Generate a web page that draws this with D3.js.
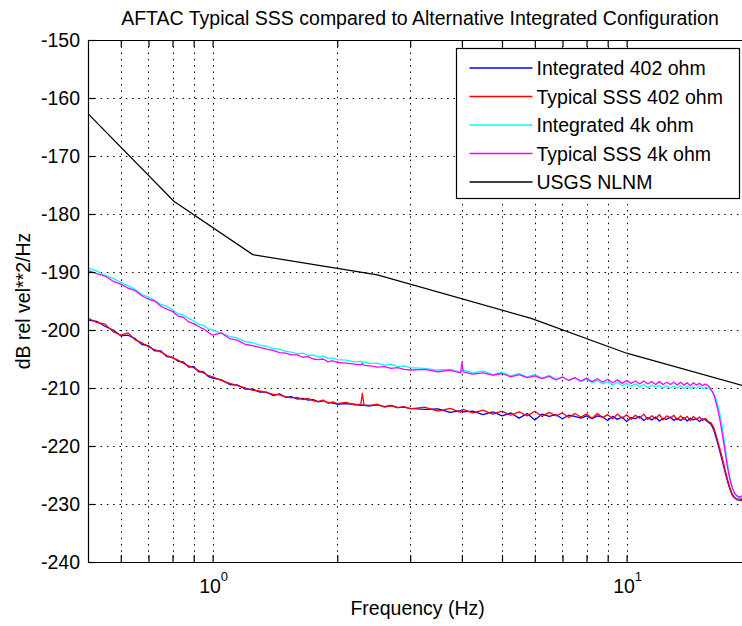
<!DOCTYPE html>
<html>
<head>
<meta charset="utf-8">
<script src="https://cdn.jsdelivr.net/npm/d3@7"></script>
<style>
  html, body { margin: 0; padding: 0; background: #fff; }
  svg { display: block; font-family: "Liberation Sans", Arial, sans-serif; }
</style>
</head>
<body>
<div id="app"></div>
<script>
// frequency bins (Hz) shared by the four measured spectra
const freqHz = [
  0.5,0.525,0.55,0.575,0.6,0.625,0.65,0.675,0.7,0.725,0.75,0.775,0.8,0.825,0.85,0.875,0.9,0.925,0.95,0.975,1.0,
  1.05,1.1,1.15,1.2,1.25,1.3,1.35,1.4,1.45,1.5,1.55,1.6,1.65,1.7,1.75,1.8,1.85,1.9,1.95,2.0,
  2.1,2.2,2.28,2.3,2.32,2.4,2.5,2.6,2.7,2.8,2.9,3.0,
  3.25,3.5,3.75,3.97,4.0,4.03,4.25,4.5,4.75,5.0,5.25,5.5,5.75,6.0,6.25,6.5,6.75,7.0,7.25,7.5,7.75,8.0,
  8.25,8.5,8.75,9.0,9.25,9.5,9.75,10.0,10.25,10.5,10.75,11.0,11.25,11.5,11.75,12.0,12.25,12.5,12.75,13.0,
  13.25,13.5,13.75,14.0,14.25,14.5,14.75,15.0,15.25,15.5,15.75,16.0,16.25,16.5,16.75,17.0,17.25,17.5,17.75,18.0,
  18.25,18.5,18.75,19.0,19.25,19.5,19.75,20.0
];

const integrated402 = [
  -198.3,-198.5,-199.4,-200.0,-201.0,-200.9,-201.5,-202.5,-202.7,-203.6,-203.6,-204.6,-204.7,-205.4,-205.5,-206.4,-206.3,-207.2,-207.2,-208.0,-208.3,
  -208.6,-209.4,-209.5,-210.2,-210.2,-210.7,-210.7,-211.3,-211.0,-211.6,-211.5,-211.9,-211.8,-212.1,-212.0,-212.4,-212.2,-212.5,-212.6,-212.8,
  -212.7,-212.8,-213.0,-212.9,-213.0,-213.1,-212.9,-213.2,-213.0,-213.4,-213.3,-213.5,
  -213.7,-213.6,-214.2,-213.9,-213.8,-214.1,-214.0,-214.6,-214.1,-214.8,-214.3,-215.2,-214.4,-215.5,-214.5,-214.9,-214.6,-215.3,-214.7,-214.9,-215.2,-214.8,
  -215.3,-214.8,-215.0,-215.6,-214.9,-215.4,-215.0,-215.8,-215.1,-215.3,-214.9,-215.6,-215.1,-215.5,-215.0,-215.7,-215.2,-215.4,-215.0,-215.6,
  -215.2,-215.6,-215.1,-215.7,-215.2,-215.5,-215.3,-215.8,-215.3,-215.5,-215.9,-216.3,-217.3,-218.9,-220.6,-222.4,-224.2,-225.9,-227.4,-228.5,
  -229.0,-229.2,-229.4,-229.1,-229.5,-229.3,-229.6,-229.4
];

const typical402 = [
  -198.0,-198.7,-199.0,-200.3,-200.9,-200.5,-201.7,-202.2,-202.9,-203.4,-203.8,-204.4,-204.8,-205.2,-205.7,-206.2,-206.5,-207.0,-207.4,-207.8,-208.1,
  -208.7,-209.2,-209.6,-210.0,-210.4,-210.5,-210.8,-211.1,-211.2,-211.5,-211.7,-211.6,-212.0,-211.8,-212.2,-212.3,-212.1,-212.6,-212.4,-212.7,
  -212.5,-212.9,-212.8,-210.9,-212.9,-213.0,-212.8,-213.3,-213.1,-213.4,-213.2,-213.6,
  -213.3,-214.0,-213.5,-214.2,-214.0,-213.7,-214.3,-213.8,-214.5,-214.0,-214.7,-214.1,-214.8,-214.0,-214.9,-214.2,-214.8,-214.3,-215.1,-214.4,-215.0,-214.5,
  -215.2,-214.4,-215.1,-214.6,-215.3,-214.5,-215.2,-214.6,-215.4,-214.7,-215.2,-214.5,-215.4,-214.8,-215.3,-214.6,-215.5,-214.8,-215.2,-214.7,
  -215.5,-214.8,-215.4,-214.9,-215.6,-214.9,-215.4,-215.0,-215.6,-215.2,-215.8,-216.0,-216.9,-218.5,-220.2,-221.9,-223.8,-225.6,-227.2,-228.3,
  -228.9,-229.3,-229.0,-229.5,-229.2,-229.6,-229.3,-229.5
];

const integrated4k = [
  -189.3,-189.8,-190.6,-191.1,-191.8,-192.4,-193.0,-193.9,-194.3,-194.9,-195.6,-195.9,-196.5,-197.2,-197.4,-198.0,-198.4,-199.0,-199.2,-199.8,-200.0,
  -200.6,-201.1,-201.4,-202.0,-202.2,-202.6,-202.8,-203.2,-203.3,-203.7,-203.8,-204.1,-204.0,-204.4,-204.3,-204.7,-204.5,-204.9,-204.8,-205.1,
  -205.2,-205.5,-205.4,-205.6,-205.5,-205.8,-205.7,-206.1,-205.9,-206.3,-206.2,-206.5,
  -206.6,-206.9,-206.8,-207.3,-207.0,-206.9,-207.4,-207.1,-207.7,-207.3,-207.9,-207.5,-208.1,-207.7,-208.3,-207.8,-208.5,-208.1,-208.7,-208.3,-208.9,-208.5,
  -209.1,-208.7,-209.3,-208.9,-209.5,-209.0,-209.6,-209.2,-209.7,-209.3,-209.8,-209.4,-209.9,-209.5,-209.8,-209.6,-210.0,-209.6,-210.0,-209.7,
  -210.0,-209.6,-210.1,-209.7,-210.1,-209.8,-210.0,-209.7,-210.1,-209.9,-210.0,-210.4,-211.0,-212.2,-214.0,-216.5,-219.6,-222.8,-225.4,-227.2,
  -228.3,-228.8,-229.0,-228.8,-229.1,-228.9,-229.2,-229.0
];

const typical4k = [
  -189.7,-190.3,-190.7,-191.6,-192.1,-192.8,-193.2,-194.1,-194.7,-195.0,-195.9,-196.4,-196.8,-197.6,-197.8,-198.6,-198.9,-199.4,-199.8,-200.4,-200.9,
  -200.5,-201.5,-201.8,-202.5,-202.7,-203.0,-203.3,-203.5,-203.9,-204.0,-204.3,-204.3,-204.7,-204.6,-205.0,-205.1,-205.0,-205.5,-205.3,-205.6,
  -205.7,-205.9,-206.0,-205.8,-206.1,-206.2,-206.4,-206.3,-206.6,-206.5,-206.8,-206.9,
  -206.8,-207.2,-206.9,-207.4,-205.6,-207.2,-207.6,-207.4,-207.8,-207.5,-208.1,-207.7,-208.2,-207.9,-208.4,-208.0,-208.6,-208.1,-208.7,-208.2,-208.8,-208.3,
  -208.9,-208.4,-209.0,-208.5,-209.1,-208.6,-209.2,-208.7,-209.2,-208.8,-209.3,-208.8,-209.3,-208.9,-209.4,-208.9,-209.4,-209.0,-209.4,-209.0,
  -209.5,-209.0,-209.5,-209.1,-209.6,-209.1,-209.5,-209.2,-209.6,-209.3,-209.6,-210.2,-211.2,-212.9,-215.0,-217.6,-220.5,-223.4,-225.7,-227.3,
  -228.2,-228.6,-228.8,-228.6,-228.9,-228.7,-229.0,-228.8
];

// USGS New Low Noise Model, read at its corner frequencies
const nlnmHz = [0.5, 0.806, 1.25, 2.5, 5.88, 10, 20];
const nlnmDb = [-162.7, -177.8, -187.0, -190.5, -198.0, -204.0, -210.0];

const yTicks = [-240, -230, -220, -210, -200, -190, -180, -170, -160, -150];
const xDecades = [1, 10];
const xMinor = [0.6, 0.7, 0.8, 0.9, 2, 3, 4, 5, 6, 7, 8, 9];
const titleText = "AFTAC Typical SSS compared to Alternative Integrated Configuration";

const series = [
  { name: "Integrated 402 ohm", color: "#0000ff", values: integrated402 },
  { name: "Typical SSS 402 ohm", color: "#ff0000", values: typical402 },
  { name: "Integrated 4k ohm", color: "#00ffff", values: integrated4k },
  { name: "Typical SSS 4k ohm", color: "#ff00ff", values: typical4k }
];

const width = 742, height = 626;
const plotLeft = 88, plotTop = 40, plotBottom = 562;
const decadePx = 414;
const plotRight = plotLeft + decadePx * Math.log10(20 / 0.5);

const x = d3.scaleLog().domain([0.5, 20]).range([plotLeft, plotRight]);
const y = d3.scaleLinear().domain([-240, -150]).range([plotBottom, plotTop]);

const svg = d3.select("#app").append("svg")
  .attr("width", width)
  .attr("height", height)
  .attr("viewBox", `0 0 ${width} ${height}`);

svg.append("rect").attr("width", width).attr("height", height).attr("fill", "#fff");

svg.append("defs").append("clipPath").attr("id", "plot-clip")
  .append("rect")
  .attr("x", plotLeft).attr("y", plotTop)
  .attr("width", plotRight - plotLeft).attr("height", plotBottom - plotTop);

// dotted grid
const grid = svg.append("g")
  .attr("stroke", "#000")
  .attr("stroke-width", 1)
  .attr("stroke-dasharray", "1.5,4.8");

grid.selectAll("line.vx")
  .data(xMinor.concat(xDecades))
  .enter().append("line")
  .attr("class", "vx")
  .attr("x1", d => Math.round(x(d)) + 0.5).attr("x2", d => Math.round(x(d)) + 0.5)
  .attr("y1", plotTop).attr("y2", plotBottom);

grid.selectAll("line.hy")
  .data(yTicks.slice(1, -1))
  .enter().append("line")
  .attr("class", "hy")
  .attr("x1", plotLeft).attr("x2", plotRight)
  .attr("y1", d => Math.round(y(d)) + 0.5).attr("y2", d => Math.round(y(d)) + 0.5);

// spectra
const lineGen = d3.line()
  .x(d => x(d[0]))
  .y(d => y(d[1]));

const curves = svg.append("g").attr("clip-path", "url(#plot-clip)");

series.forEach(s => {
  curves.append("path")
    .datum(freqHz.map((f, i) => [f, s.values[i]]))
    .attr("fill", "none")
    .attr("stroke", s.color)
    .attr("stroke-width", 1.3)
    .attr("stroke-linejoin", "round")
    .attr("d", lineGen);
});

curves.append("path")
  .datum(nlnmHz.map((f, i) => [f, nlnmDb[i]]))
  .attr("fill", "none")
  .attr("stroke", "#000")
  .attr("stroke-width", 1.2)
  .attr("d", lineGen);

// axes, MATLAB style: ticks pointing inward
const allXTicks = xMinor.concat(xDecades);
const tickLen = 7;

svg.append("g")
  .attr("transform", `translate(0,${plotBottom})`)
  .call(d3.axisBottom(x).tickValues(allXTicks).tickSizeInner(-tickLen).tickSizeOuter(0).tickFormat(""));

svg.append("g")
  .attr("transform", `translate(0,${plotTop})`)
  .call(d3.axisTop(x).tickValues(allXTicks).tickSizeInner(-tickLen).tickSizeOuter(0).tickFormat(""));

const yAxis = svg.append("g")
  .attr("transform", `translate(${plotLeft},0)`)
  .call(d3.axisLeft(y).tickValues(yTicks).tickSizeInner(-tickLen).tickSizeOuter(0).tickPadding(8)
    .tickFormat(d => String(d)));

svg.append("g")
  .attr("transform", `translate(${plotRight},0)`)
  .call(d3.axisRight(y).tickValues(yTicks).tickSizeInner(-tickLen).tickSizeOuter(0).tickFormat(""));

svg.selectAll(".domain, .tick line").attr("stroke", "#000").attr("stroke-width", 1.2);

yAxis.selectAll("text")
  .attr("font-size", "19.5px")
  .attr("font-family", "'Liberation Sans', Arial, sans-serif")
  .attr("fill", "#000");

// decade labels 10^0, 10^1
const decadeLabels = svg.append("g").attr("font-size", "19.5px").attr("fill", "#000");
xDecades.forEach(d => {
  const t = decadeLabels.append("text")
    .attr("x", x(d) + 1)
    .attr("y", 593)
    .attr("text-anchor", "middle");
  t.append("tspan").text("10");
  t.append("tspan").attr("font-size", "13px").attr("dy", -12).text(Math.round(Math.log10(d)));
});

// title and axis labels
svg.append("text")
  .attr("x", (plotLeft + 752) / 2)
  .attr("y", 25)
  .attr("text-anchor", "middle")
  .attr("font-size", "19.5px")
  .text(titleText);

svg.append("text")
  .attr("x", (plotLeft + plotRight) / 2 - 2)
  .attr("y", 615)
  .attr("text-anchor", "middle")
  .attr("font-size", "19.5px")
  .text("Frequency (Hz)");

svg.append("text")
  .attr("transform", `translate(30,${(plotTop + plotBottom) / 2}) rotate(-90)`)
  .attr("text-anchor", "middle")
  .attr("font-size", "19.5px")
  .text("dB rel vel**2/Hz");

// legend
const legendNames = series.map(s => s.name).concat(["USGS NLNM"]);
const legendColors = series.map(s => s.color).concat(["#000"]);
const legend = svg.append("g").attr("transform", "translate(456.5,48.5)");

legend.append("rect")
  .attr("width", 283).attr("height", 150)
  .attr("fill", "#fff").attr("stroke", "#000").attr("stroke-width", 1.2);

const rows = legend.selectAll("g.row")
  .data(legendNames)
  .enter().append("g")
  .attr("class", "row")
  .attr("transform", (d, i) => `translate(0,${19.5 + i * 28.5})`);

rows.append("line")
  .attr("x1", 13).attr("x2", 76)
  .attr("stroke", (d, i) => legendColors[i])
  .attr("stroke-width", 1.5);

rows.append("text")
  .attr("x", 80)
  .attr("dy", "0.36em")
  .attr("font-size", "19.5px")
  .text(d => d);
</script>
</body>
</html>
